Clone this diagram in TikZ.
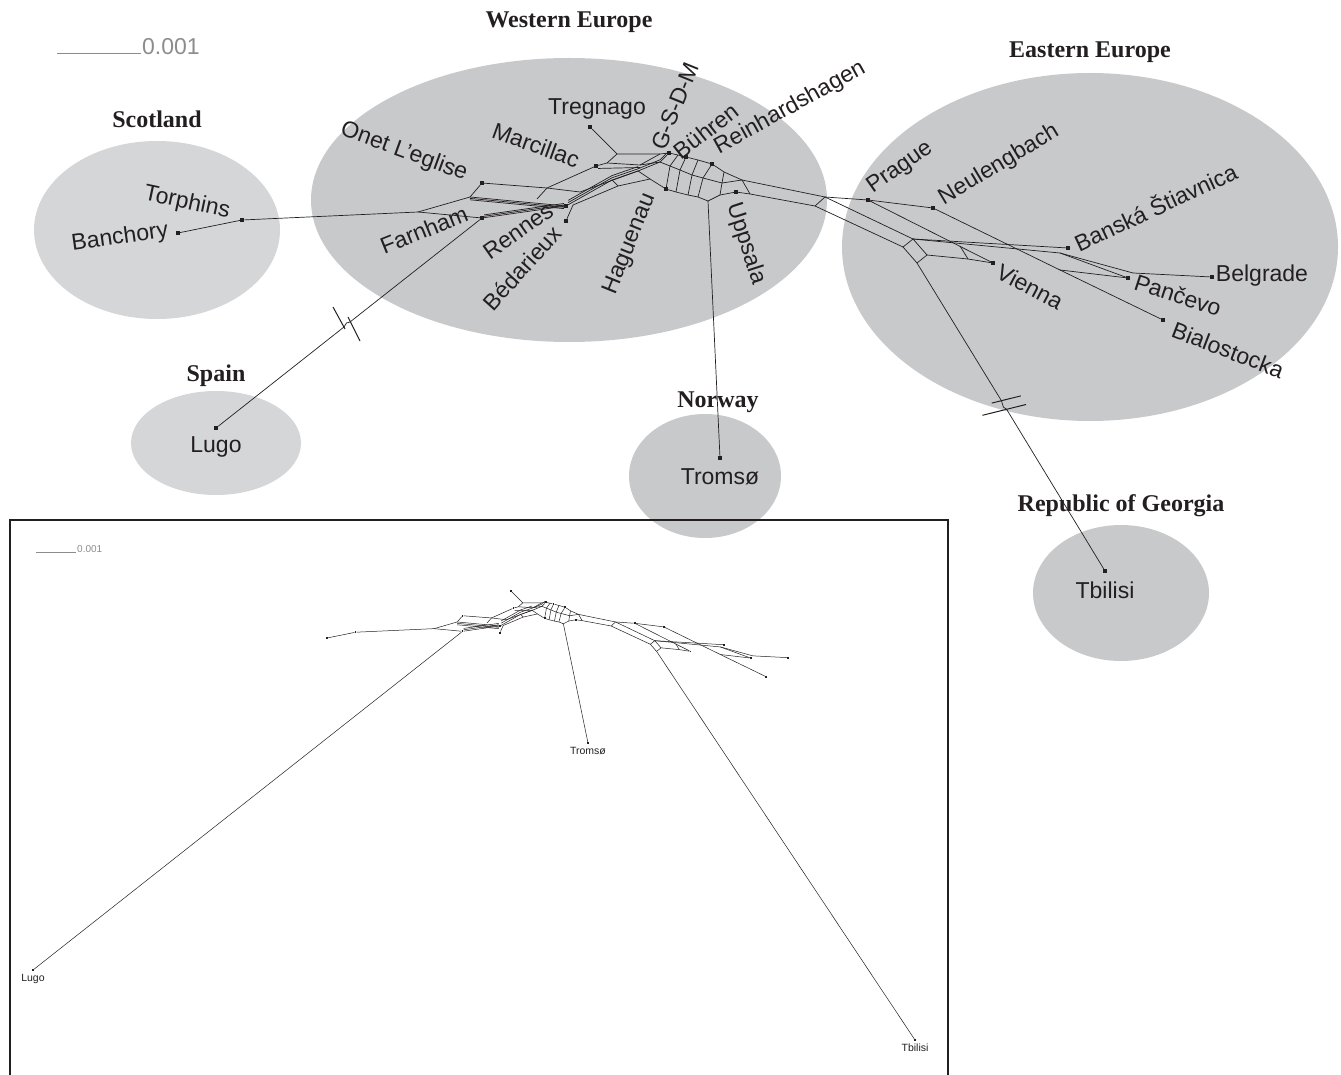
\documentclass[tikz,border=0pt]{standalone}
\usepackage{fontspec}
\setmainfont{Liberation Sans}
\newfontfamily\titlefont{Liberation Serif}
\usepackage{tikz}
\usetikzlibrary{positioning,calc}

\definecolor{regiondark}{RGB}{200,201,203}
\definecolor{regionlight}{RGB}{213,214,216}
\definecolor{ink}{RGB}{35,31,32}
\definecolor{scalegray}{RGB}{140,140,140}

%siec (the same network is drawn twice)
\newcommand{\splitnet}[1]{%
%liscie
\node[leaf] (#1bch)  at (178,233) {};
\node[leaf] (#1tor)  at (242,220) {};
\node[leaf] (#1onet) at (482,183) {};
\node[leaf] (#1farn) at (482,218) {};
\node[leaf] (#1ren)  at (566,206) {};
\node[leaf] (#1bed)  at (566,221) {};
\node[leaf] (#1mar)  at (596,166) {};
\node[leaf] (#1tre)  at (590,127) {};
\node[leaf] (#1gsdm) at (669,153) {};
\node[leaf] (#1bue)  at (686,157) {};
\node[leaf] (#1rei)  at (712,164) {};
\node[leaf] (#1hag)  at (666,189) {};
\node[leaf] (#1upp)  at (736,192) {};
\node[leaf] (#1prg)  at (868,200) {};
\node[leaf] (#1neu)  at (933,208) {};
\node[leaf] (#1ban)  at (1068,248) {};
\node[leaf] (#1vie)  at (993,263) {};
\node[leaf] (#1pan)  at (1128,278) {};
\node[leaf] (#1bel)  at (1212,277) {};
\node[leaf] (#1bia)  at (1163,320) {};
%wezly
\coordinate (#1ja) at (418,212);
\coordinate (#1jb) at (470,197);
\coordinate (#1mk) at (537,199);
\coordinate (#1mj) at (547,188);
\coordinate (#1oj) at (580,192);
\coordinate (#1rk) at (573,205);
\coordinate (#1c1) at (612,180);
\coordinate (#1c2) at (638,171);
\coordinate (#1c3) at (660,162);
\coordinate (#1d1) at (618,186);
\coordinate (#1d2) at (650,179);
\coordinate (#1m1) at (607,163);
\coordinate (#1m2) at (640,165);
\coordinate (#1tj) at (617,154);
\coordinate (#1t2) at (660,154);
\coordinate (#1q1) at (678,155);
\coordinate (#1q2) at (698,160);
\coordinate (#1u1) at (724,172);
\coordinate (#1u2) at (742,180);
\coordinate (#1n1) at (670,166);
\coordinate (#1n2) at (680,170);
\coordinate (#1n3) at (692,175);
\coordinate (#1n4) at (703,178);
\coordinate (#1n5) at (722,183);
\coordinate (#1l1) at (676,192);
\coordinate (#1l2) at (688,195);
\coordinate (#1l3) at (698,197);
\coordinate (#1nor) at (708,201);
\coordinate (#1l4) at (720,195);
\coordinate (#1l5) at (750,194);
\coordinate (#1eu) at (825,197);
\coordinate (#1el) at (815,206);
\coordinate (#1e1) at (903,247);
\coordinate (#1e2) at (913,239);
\coordinate (#1e3) at (927,255);
\coordinate (#1e4) at (917,263);
\coordinate (#1g1) at (968,259);
\coordinate (#1g2) at (960,246);
\coordinate (#1f1) at (1060,253);
\coordinate (#1f2) at (1133,273);
\coordinate (#1f3) at (1060,270);
%krawedzie
\draw[net] (#1bch) -- (#1tor) -- (#1ja) -- (#1jb) -- (#1onet) -- (#1mj) -- (#1oj) -- (#1c2);
\draw[net] (#1ja) -- (#1farn);
\foreach \d in {0,1.4,2.8} {
  \draw[net,transform canvas={yshift=-\d pt}] (#1jb) -- (#1ren);
  \draw[net,transform canvas={yshift=\d pt}] (#1farn) -- (#1ren);
}
\draw[net] (#1mk) -- (#1mj) -- (#1mar);
\draw[net] (#1rk) -- (#1bed);
\foreach \d in {0,2.2,4.4}
  \draw[net,transform canvas={yshift=\d pt}] (#1ren) -- (#1c1) -- (#1c2);
\foreach \d in {0,2.2}
  \draw[net,transform canvas={yshift=\d pt}] (#1c2) -- (#1c3) -- (#1gsdm);
\draw[net] (#1rk) -- (#1d1) -- (#1d2) -- (#1hag);
\draw[net] (#1c1) -- (#1d1) (#1c2) -- (#1d2);
\draw[net] (#1mar) -- (#1m1) -- (#1m2) -- (#1c3);
\draw[net,transform canvas={yshift=-2.5pt}] (#1mar) -- (#1m2);
\draw[net] (#1tre) -- (#1tj) -- (#1t2) -- (#1gsdm);
\draw[net] (#1tj) -- (#1m1);
\draw[net] (#1m2) -- (#1t2);
%drabinka
\draw[net] (#1gsdm) -- (#1q1) -- (#1bue) -- (#1q2) -- (#1rei) -- (#1u1) -- (#1u2) -- (#1eu);
\draw[net] (#1c3) -- (#1n1) -- (#1n2) -- (#1n3) -- (#1n4) -- (#1n5) -- (#1u2);
\draw[net] (#1hag) -- (#1l1) -- (#1l2) -- (#1l3) -- (#1nor) -- (#1l4) -- (#1upp) -- (#1l5) -- (#1el);
\draw[net] (#1n1) -- (#1q1) (#1n2) -- (#1bue) (#1n3) -- (#1q2) (#1n4) -- (#1rei) (#1n5) -- (#1u1);
\draw[net] (#1hag) -- (#1n1) (#1l1) -- (#1n2) (#1l2) -- (#1n3) (#1l3) -- (#1n4) (#1l4) -- (#1n5);
\draw[net] (#1u2) -- (#1l5) (#1eu) -- (#1el);
%wschod
\draw[net] (#1eu) -- (#1prg) -- (#1neu);
\draw[net] (#1eu) -- (#1e2) -- (#1e1) -- (#1el);
\draw[net] (#1e1) -- (#1e4) -- (#1e3) -- (#1e2);
\draw[net] (#1prg) -- (#1vie);
\draw[net] (#1e3) -- (#1g1) -- (#1vie);
\draw[net] (#1g1) -- (#1g2);
\draw[net] (#1e2) -- (#1ban);
\draw[net] (#1e2) -- (#1f1) -- (#1f2) -- (#1bel);
\draw[net] (#1f1) -- (#1pan);
\draw[net] (#1neu) -- (#1f3) -- (#1bia);
\draw[net] (#1f3) -- (#1pan);
}

\begin{document}
\begin{tikzpicture}[x=1pt, y=-1pt]
\tikzset{
    %styl lisci
    leaf/.style={rectangle, fill=ink, inner sep=0pt, minimum size=4pt},
    net/.style={draw=ink, line width=0.7pt},
    %nazwy
    taxon/.style={inner sep=0pt, text=ink, font=\fontsize{23}{23}\selectfont},
    small/.style={inner sep=0pt, text=ink, font=\fontsize{10.5}{10.5}\selectfont},
    region/.style={inner sep=0pt, text=ink, font=\titlefont\bfseries\fontsize{24}{24}\selectfont},
    breakmark/.style={draw=ink, line width=1pt},
    scalebar/.style={draw=scalegray, line width=0.6pt}
}
\useasboundingbox (0,0) rectangle (1341,1075);

%Pola
\fill[regionlight] (157,230) ellipse [x radius=123pt, y radius=89pt];
\fill[regionlight] (216,443) ellipse [x radius=85pt, y radius=52pt];
\fill[regiondark]  (569,200) ellipse [x radius=258pt, y radius=142pt];
\fill[regiondark]  (1090,247) ellipse [x radius=248pt, y radius=174pt];
\fill[regiondark]  (705,476) ellipse [x radius=76pt, y radius=62pt];
\fill[regiondark]  (1121,593) ellipse [x radius=88pt, y radius=68pt];

\node[region] (tscot) at (157,119)  {Scotland};
\node[region] (tweu)  at (569,22)   {Western Europe};
\node[region] (teeu)  at (1090,52)  {Eastern Europe};
\node[region] (tspa)  at (216,376)  {Spain};
\node[region] (tnor)  at (718,402)  {Norway};
\node[region] (tgeo)  at (1121,506) {Republic of Georgia};

%skala
\coordinate (sb0) at (57,53);
\coordinate (sb1) at (141,53);
\draw[scalebar] (sb0) -- (sb1);
\node[anchor=base west, inner sep=0pt, text=scalegray, font=\fontsize{23}{23}\selectfont] (sbt) at (142,55) {0.001};

%Siec
\splitnet{}

%Dlugie galezie
\node[leaf] (lugo) at (216,428)  {};
\node[leaf] (tro)  at (720,458)  {};
\node[leaf] (tbi)  at (1105,571) {};
\coordinate (lbA) at (350,322);
\coordinate (lbJ) at (346.5,323);
\coordinate (lbC) at (344,327);
\draw[net] (farn) -- (lbA) -- (lbJ) -- (lbC) -- (lugo);
\draw[breakmark] (333,307) -- (345,329);
\draw[breakmark] (348,317) -- (360,341);
\draw[net] (nor) -- (tro);
\coordinate (gbA) at (1001.4,400.7);
\coordinate (gbJ) at (1003.4,407.1);
\coordinate (gbC) at (1006.6,409.3);
\draw[net] (e4) -- (gbA) -- (gbJ) -- (gbC) -- (tbi);
\draw[breakmark] (991.7,403.1) -- (1020.8,395.9);
\draw[breakmark] (982.4,415.3) -- (1026.0,404.5);

%Nazwy
\node[taxon, rotate=8]   (lbch)  at (120,238)  {Banchory};
\node[taxon, rotate=-12] (ltor)  at (187,203)  {Torphins};
\node[taxon, rotate=-20] (lonet) at (404,152)  {Onet L’eglise};
\node[taxon, rotate=22]  (lfarn) at (424,230)  {Farnham};
\node[taxon, rotate=-20] (lmar)  at (536,145)  {Marcillac};
\node[taxon]             (ltre)  at (597,109)  {Tregnago};
\node[taxon, rotate=35]  (lren)  at (518,231)  {Rennes};
\node[taxon, rotate=48]  (lbed)  at (522,268)  {Bédarieux};
\node[taxon, rotate=68]  (lhag)  at (630,244)  {Haguenau};
\node[taxon, rotate=68]  (lgsdm) at (675,106)  {G-S-D-M};
\node[taxon, rotate=38]  (lbue)  at (706,131)  {Bühren};
\node[taxon, rotate=29]  (lrei)  at (790,108)  {Reinhardshagen};
\node[taxon, rotate=-72] (lupp)  at (746,244)  {Uppsala};
\node[taxon, rotate=35]  (lprg)  at (900,168)  {Prague};
\node[taxon, rotate=31]  (lneu)  at (999,165)  {Neulengbach};
\node[taxon, rotate=25]  (lban)  at (1155,206) {Banská Štiavnica};
\node[taxon, rotate=-28] (lvie)  at (1030,287) {Vienna};
\node[taxon, rotate=-18] (lpan)  at (1178,295) {Pančevo};
\node[taxon]             (lbel)  at (1262,276) {Belgrade};
\node[taxon, rotate=-21] (lbia)  at (1228,350) {Bialostocka};
\node[taxon, below=6pt of lugo] (llugo) {Lugo};
\node[taxon, below=8pt of tro]  (ltro)  {Tromsø};
\node[taxon, below=8pt of tbi]  (ltbi)  {Tbilisi};

%Ramka
\coordinate (fr0) at (10,1080);
\coordinate (fr1) at (10,520);
\coordinate (fr2) at (948,520);
\coordinate (fr3) at (948,1080);
\draw[draw=ink, line width=1.3pt] (fr0) -- (fr1) -- (fr2) -- (fr3);
\coordinate (isb0) at (36,552);
\coordinate (isb1) at (76,552);
\draw[scalebar, line width=0.4pt] (isb0) -- (isb1);
\node[anchor=base west, inner sep=0pt, text=scalegray, font=\fontsize{10}{10}\selectfont] (isbt) at (77,552) {0.001};

\begin{scope}[shift={(247.6,534.1)}, scale=0.446,
    leaf/.style={rectangle, fill=ink, inner sep=0pt, minimum size=1.8pt},
    net/.style={draw=ink, line width=0.5pt}]
\splitnet{i}
\end{scope}
\tikzset{leaf/.style={rectangle, fill=ink, inner sep=0pt, minimum size=1.8pt}}
\node[leaf] (ilugo) at (33,970)  {};
\node[leaf] (itro)  at (588,743) {};
\node[leaf] (itbi)  at (915,1040) {};
\draw[draw=ink, line width=0.5pt] (ifarn) -- (ilugo);
\draw[draw=ink, line width=0.5pt] (inor) -- (itro);
\draw[draw=ink, line width=0.5pt] (ie4) -- (itbi);
\node[small, below=3pt of ilugo] (illugo) {Lugo};
\node[small, below=3pt of itro]  (iltro)  {Tromsø};
\node[small, below=3pt of itbi]  (iltbi)  {Tbilisi};
\end{tikzpicture}
\end{document}
